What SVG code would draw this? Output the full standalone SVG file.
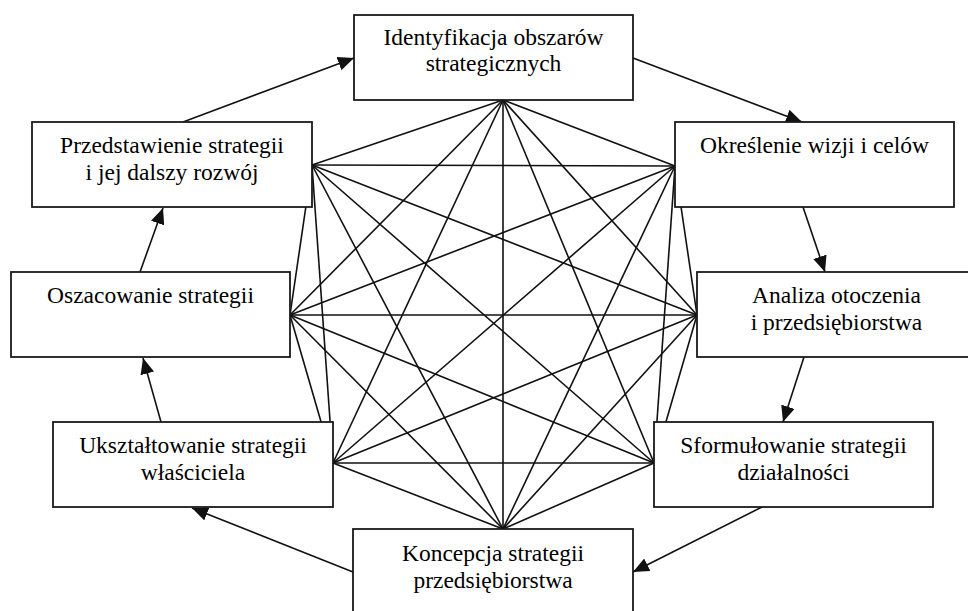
<svg xmlns="http://www.w3.org/2000/svg" width="968" height="611" viewBox="0 0 968 611">
<defs>
<style>
.box{fill:#fff;stroke:#1a1a1a;stroke-width:1.8}
.t{font-family:"Liberation Serif","Times New Roman","DejaVu Serif",serif;font-size:23.5px;fill:#000;text-anchor:middle}
.ln{stroke:#111;stroke-width:1.6;fill:none}
.ar{stroke:#111;stroke-width:1.6;fill:none;marker-end:url(#ah)}
</style>
<marker id="ah" markerUnits="userSpaceOnUse" markerWidth="18" markerHeight="14" refX="16" refY="7" orient="auto">
<path d="M0,0 L16,7 L0,14 Z" fill="#111"/>
</marker>
</defs>
<g id="connectors">
<g id="mesh">
<line class="ln" x1="503" y1="100" x2="675" y2="166"/>
<line class="ln" x1="503" y1="100" x2="697" y2="315"/>
<line class="ln" x1="503" y1="100" x2="654" y2="463"/>
<line class="ln" x1="503" y1="100" x2="503" y2="529"/>
<line class="ln" x1="503" y1="100" x2="333" y2="463"/>
<line class="ln" x1="503" y1="100" x2="290" y2="315"/>
<line class="ln" x1="503" y1="100" x2="312" y2="165"/>
<line class="ln" x1="675" y1="166" x2="697" y2="315"/>
<line class="ln" x1="675" y1="166" x2="654" y2="463"/>
<line class="ln" x1="675" y1="166" x2="503" y2="529"/>
<line class="ln" x1="675" y1="166" x2="333" y2="463"/>
<line class="ln" x1="675" y1="166" x2="290" y2="315"/>
<line class="ln" x1="675" y1="166" x2="312" y2="165"/>
<line class="ln" x1="697" y1="315" x2="654" y2="463"/>
<line class="ln" x1="697" y1="315" x2="503" y2="529"/>
<line class="ln" x1="697" y1="315" x2="333" y2="463"/>
<line class="ln" x1="697" y1="315" x2="290" y2="315"/>
<line class="ln" x1="697" y1="315" x2="312" y2="165"/>
<line class="ln" x1="654" y1="463" x2="503" y2="529"/>
<line class="ln" x1="654" y1="463" x2="333" y2="463"/>
<line class="ln" x1="654" y1="463" x2="290" y2="315"/>
<line class="ln" x1="654" y1="463" x2="312" y2="165"/>
<line class="ln" x1="503" y1="529" x2="333" y2="463"/>
<line class="ln" x1="503" y1="529" x2="290" y2="315"/>
<line class="ln" x1="503" y1="529" x2="312" y2="165"/>
<line class="ln" x1="333" y1="463" x2="290" y2="315"/>
<line class="ln" x1="333" y1="463" x2="312" y2="165"/>
<line class="ln" x1="290" y1="315" x2="312" y2="165"/>
</g>
<g id="cycle">
<line class="ar" x1="183" y1="122" x2="354" y2="58"/>
<line class="ar" x1="633" y1="58" x2="802" y2="122"/>
<line class="ar" x1="803" y1="207" x2="825" y2="272"/>
<line class="ar" x1="804" y1="357" x2="783" y2="422"/>
<line class="ar" x1="762" y1="507" x2="633" y2="572"/>
<line class="ar" x1="353" y1="572" x2="192" y2="508"/>
<line class="ar" x1="161" y1="422" x2="143" y2="358"/>
<line class="ar" x1="140" y1="272" x2="163" y2="208"/>
</g>
</g>
<g id="n-identyfikacja">
<rect class="box" x="354" y="15" width="279" height="85"/>
<text class="t" x="493.5" y="45">Identyfikacja obszarów</text>
<text class="t" x="493.5" y="71">strategicznych</text>
</g>
<g id="n-okreslenie">
<rect class="box" x="675" y="122" width="279" height="85"/>
<text class="t" x="814.5" y="153">Określenie wizji i celów</text>
</g>
<g id="n-analiza">
<rect class="box" x="697" y="272" width="279" height="85"/>
<text class="t" x="836.5" y="303">Analiza otoczenia</text>
<text class="t" x="836.5" y="330">i przedsiębiorstwa</text>
</g>
<g id="n-sformulowanie">
<rect class="box" x="654" y="422" width="279" height="85"/>
<text class="t" x="793.5" y="453">Sformułowanie strategii</text>
<text class="t" x="793.5" y="480">działalności</text>
</g>
<g id="n-koncepcja">
<rect class="box" x="353" y="529" width="280" height="85"/>
<text class="t" x="493" y="561">Koncepcja strategii</text>
<text class="t" x="493" y="588">przedsiębiorstwa</text>
</g>
<g id="n-uksztaltowanie">
<rect class="box" x="53" y="422" width="280" height="85"/>
<text class="t" x="193" y="453">Ukształtowanie strategii</text>
<text class="t" x="193" y="480">właściciela</text>
</g>
<g id="n-oszacowanie">
<rect class="box" x="11" y="272" width="279" height="85"/>
<text class="t" x="150.5" y="303">Oszacowanie strategii</text>
</g>
<g id="n-przedstawienie">
<rect class="box" x="32" y="122" width="280" height="85"/>
<text class="t" x="172" y="153">Przedstawienie strategii</text>
<text class="t" x="172" y="180">i jej dalszy rozwój</text>
</g>
</svg>
